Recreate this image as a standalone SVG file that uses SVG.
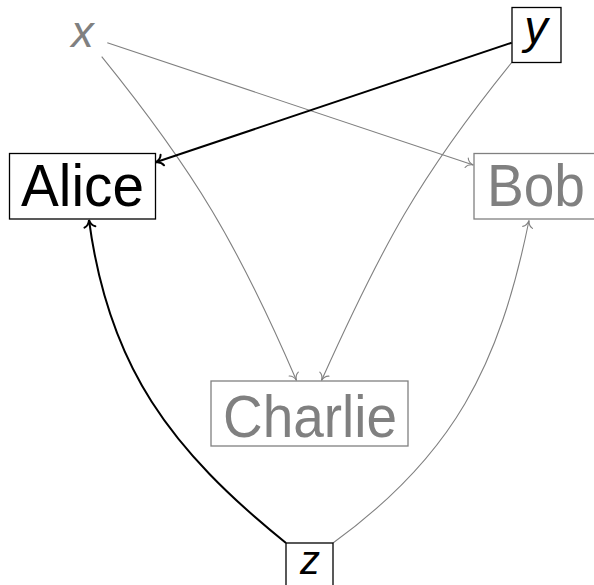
<svg xmlns="http://www.w3.org/2000/svg" width="594" height="585" viewBox="0 0 594 585">
<style>
.box{fill:#fff;stroke-width:1.3}
.blk{stroke:#000}
.gry{stroke:#808080}
.lbl{font-family:"Liberation Sans",Arial,sans-serif;font-size:60px;text-anchor:middle}
.var{font-family:"Liberation Sans",Arial,sans-serif;font-style:italic;text-anchor:middle}
.e{fill:none}
.eb{stroke:#000;stroke-width:2}
.eg{stroke:#808080;stroke-width:1.1}
</style>
<defs>
<marker id="ab" markerUnits="userSpaceOnUse" viewBox="-10 -8 12 16" refX="0" refY="0" markerWidth="12" markerHeight="16" orient="auto">
<path d="M-7,-5.5 C-6,-2.5 -3,-0.6 0,0 C-3,0.6 -6,2.5 -7,5.5" fill="none" stroke="#000" stroke-width="2" stroke-linecap="round"/>
</marker>
<marker id="ag" markerUnits="userSpaceOnUse" viewBox="-10 -8 12 16" refX="0" refY="0" markerWidth="12" markerHeight="16" orient="auto">
<path d="M-7,-5 C-6,-2.3 -3,-0.5 0,0 C-3,0.5 -6,2.3 -7,5" fill="none" stroke="#808080" stroke-width="1.1" stroke-linecap="round"/>
</marker>
</defs>
<rect width="594" height="585" fill="#fff"/>
<g id="connectors">
<path class="e eg" d="M107.3,42.7 L473.3,165" marker-end="url(#ag)"/>
<path class="e eg" d="M101.7,56.7 C195,172 238,245 296.5,380.5" marker-end="url(#ag)"/>
<path class="e eg" d="M511.7,62.5 C419,177 382,246 321.5,380.5" marker-end="url(#ag)"/>
<path class="e eb" d="M511.7,42.7 L155.7,162.3" marker-end="url(#ab)"/>
<path class="e eb" d="M286,543 C171,450 108.5,367 89,220" marker-end="url(#ab)"/>
<path class="e eg" d="M333,543 C453,456 499.4,366 529,220.5" marker-end="url(#ag)"/>
</g>
<g id="node-x">
<text class="var" x="82.5" y="47" font-size="45" fill="#808080">x</text>
</g>
<g id="node-y">
<rect class="box blk" x="512" y="7.5" width="49" height="55"/>
<text class="var" x="536" y="43" font-size="47" fill="#000">y</text>
</g>
<g id="node-alice">
<rect class="box blk" x="9.5" y="153.5" width="146" height="65.5"/>
<text class="lbl" x="82.5" y="206" textLength="123" lengthAdjust="spacingAndGlyphs" fill="#000">Alice</text>
</g>
<g id="node-bob">
<rect class="box gry" x="474" y="153.5" width="130" height="65.5"/>
<text class="lbl" x="536" y="206" textLength="98" lengthAdjust="spacingAndGlyphs" fill="#808080">Bob</text>
</g>
<g id="node-charlie">
<rect class="box gry" x="211" y="381" width="197" height="65"/>
<text class="lbl" x="310" y="437" textLength="174" lengthAdjust="spacingAndGlyphs" fill="#808080">Charlie</text>
</g>
<g id="node-z">
<rect class="box blk" x="286" y="543" width="47" height="60"/>
<text class="var" x="310" y="574" font-size="40" fill="#000">z</text>
</g>
</svg>
